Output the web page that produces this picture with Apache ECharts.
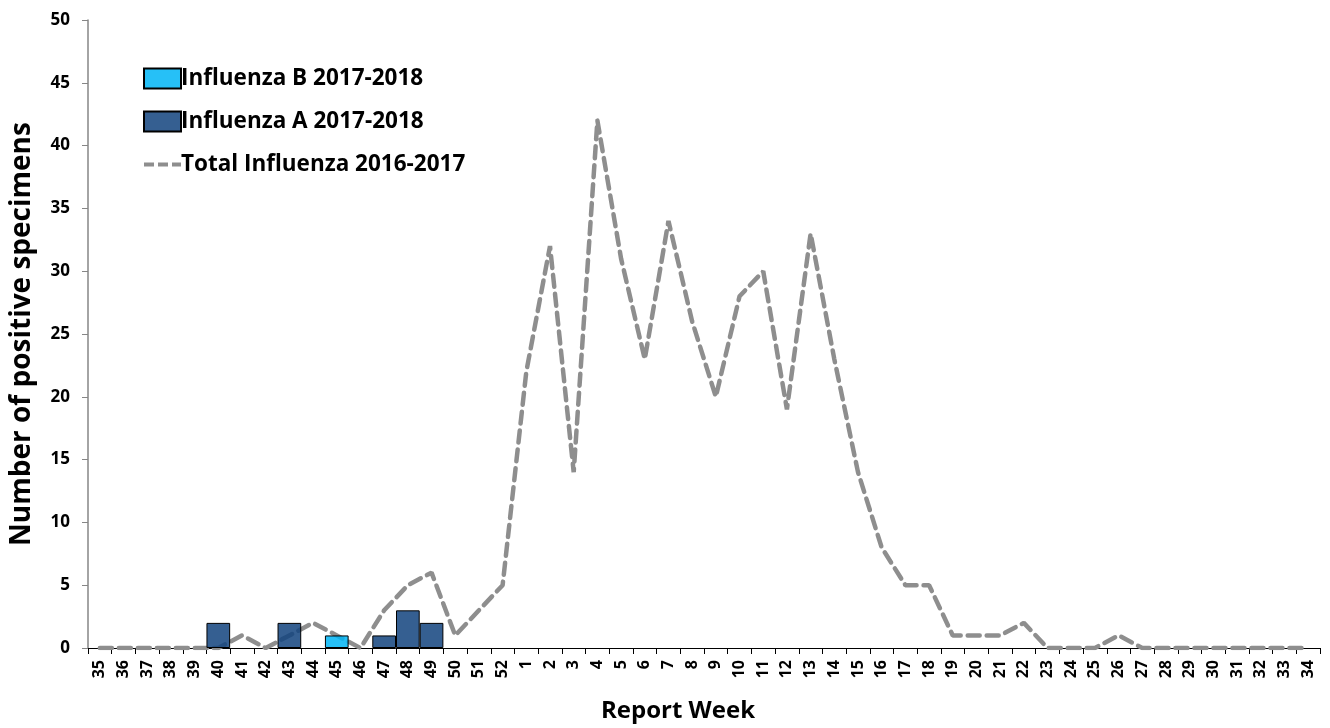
<!DOCTYPE html>
<html>
<head>
<meta charset="utf-8">
<script src="https://cdn.jsdelivr.net/npm/echarts@6/dist/echarts.min.js"></script>
<style>
  html, body { margin: 0; padding: 0; background: #fff; }
  #chart { width: 1330px; height: 728px; }
</style>
</head>
<body>
<div id="chart"></div>
<script>
// 보고 주차 (35주 ~ 다음해 34주)
var weeks = ['35','36','37','38','39','40','41','42','43','44','45','46','47','48','49','50','51','52',
  '1','2','3','4','5','6','7','8','9','10','11','12','13','14','15','16','17',
  '18','19','20','21','22','23','24','25','26','27','28','29','30','31','32','33','34'];

// 2017-2018 인플루엔자 A / B 양성 검체 수 (데이터 없는 주는 null)
var fluA = [null,null,null,null,null,2,null,null,2,null,null,null,1,3,2,null,null,null,
  null,null,null,null,null,null,null,null,null,null,null,null,null,null,null,null,null,
  null,null,null,null,null,null,null,null,null,null,null,null,null,null,null,null,null];
var fluB = [null,null,null,null,null,null,null,null,null,null,1,null,null,null,null,null,null,null,
  null,null,null,null,null,null,null,null,null,null,null,null,null,null,null,null,null,
  null,null,null,null,null,null,null,null,null,null,null,null,null,null,null,null,null];

// 2016-2017 전체 인플루엔자
var total1617 = [0,0,0,0,0,0,1,0,1,2,1,0,3,5,6,1,3,5,
  22,32,14,42,31,23,34,26,20,28,30,19,33,23,14,8,5,
  5,1,1,1,2,0,0,0,1,0,0,0,0,0,0,0,0];

var yTicks = { min: 0, max: 50, interval: 5 };

var fontFam = '"Open Sans", "Noto Sans", sans-serif';

// 범례용 점선 아이콘
var dashIcon = 'path://M0,0h10v4h-10z M14,0h10v4h-10z M28,0h9v4h-9z';

var myChart = echarts.init(document.getElementById('chart'));

var option = {
  animation: false,
  textStyle: { fontFamily: fontFam },
  grid: {
    left: 88,
    right: 10,
    top: 20,
    bottom: 80,
    containLabel: false,
    outerBoundsMode: 'none'
  },
  legend: {
    orient: 'vertical',
    left: 138,
    top: 62,
    itemWidth: 37,
    itemHeight: 20,
    itemGap: 20,
    symbolKeepAspect: true,
    textStyle: {
      fontFamily: fontFam,
      fontWeight: 'bold',
      fontSize: 22.5,
      color: '#000',
      padding: [0, 0, 0, -5]
    },
    data: [
      { name: 'Influenza B 2017-2018', icon: 'rect' },
      { name: 'Influenza A 2017-2018', icon: 'rect' },
      { name: 'Total Influenza 2016-2017', icon: dashIcon }
    ]
  },
  xAxis: {
    type: 'category',
    data: weeks,
    boundaryGap: true,
    name: 'Report Week',
    nameLocation: 'middle',
    nameGap: 51,
    nameTextStyle: {
      fontFamily: fontFam,
      fontWeight: 'bold',
      fontSize: 24,
      color: '#000',
      padding: [0, 52, 0, 0]
    },
    axisLine: { lineStyle: { color: '#000', width: 1 } },
    axisTick: { show: true, length: 6, lineStyle: { color: '#000' } },
    axisLabel: {
      interval: 0,
      rotate: 90,
      fontSize: 16,
      fontWeight: 'bold',
      color: '#000',
      margin: 12
    },
    splitLine: { show: false }
  },
  yAxis: {
    type: 'value',
    min: yTicks.min,
    max: yTicks.max,
    interval: yTicks.interval,
    name: 'Number of positive specimens',
    nameLocation: 'middle',
    nameGap: 52,
    nameTextStyle: {
      fontFamily: fontFam,
      fontWeight: 'bold',
      fontSize: 28,
      color: '#000'
    },
    axisLine: { show: true, lineStyle: { color: '#868686', width: 1.5 } },
    axisTick: { show: true, length: 6, lineStyle: { color: '#868686' } },
    axisLabel: {
      fontSize: 17,
      fontWeight: 'bold',
      color: '#000',
      margin: 18
    },
    splitLine: { show: false }
  },
  series: [
    {
      name: 'Total Influenza 2016-2017',
      type: 'line',
      data: total1617,
      symbol: 'none',
      smooth: false,
      z: 1,
      lineStyle: {
        color: '#8e8e8e',
        width: 4.5,
        type: [12, 7],
        cap: 'round'
      },
      itemStyle: { color: '#8e8e8e' }
    },
    {
      name: 'Influenza A 2017-2018',
      type: 'bar',
      stack: 'flu',
      data: fluA,
      barCategoryGap: 0,
      z: 2,
      itemStyle: {
        color: 'rgba(18,67,126,0.85)',
        borderColor: '#000',
        borderWidth: 1
      }
    },
    {
      name: 'Influenza B 2017-2018',
      type: 'bar',
      stack: 'flu',
      data: fluB,
      barCategoryGap: 0,
      z: 2,
      itemStyle: {
        color: 'rgba(0,181,246,0.85)',
        borderColor: '#000',
        borderWidth: 1
      }
    }
  ]
};

myChart.setOption(option);
</script>
</body>
</html>
